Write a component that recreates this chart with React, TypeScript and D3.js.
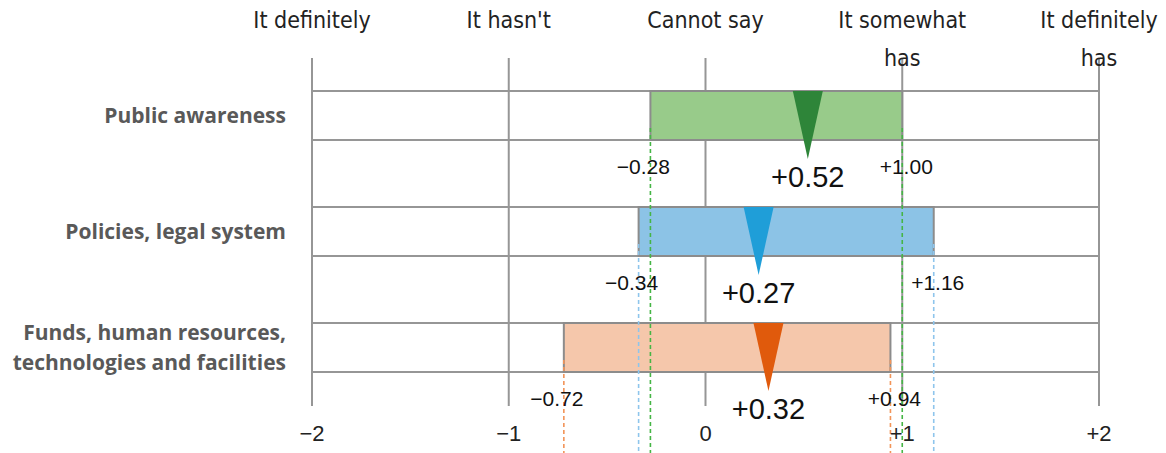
import React from "react";
import * as d3 from "d3";

const categories = ["Public awareness", "Policies, legal system", "Funds, human resources,\ntechnologies and facilities"];
const lows = [-0.28, -0.34, -0.72];
const means = [0.52, 0.27, 0.32];
const highs = [1.0, 1.16, 0.94];
const lowLabels = ["\u22120.28", "\u22120.34", "\u22120.72"];
const meanLabels = ["+0.52", "+0.27", "+0.32"];
const highLabels = ["+1.00", "+1.16", "+0.94"];
const ticks = [-2, -1, 0, 1, 2];
const tickLabels = ["\u22122", "\u22121", "0", "+1", "+2"];
const scaleLabels = ["It definitely", "It hasn't", "Cannot say", "It somewhat\nhas", "It definitely\nhas"];
const barFills = ["#98cb8a", "#8cc3e6", "#f5c7ab"];
const triFills = ["#2e8539", "#1f9ed8", "#e05a0c"];
const dashColors = ["#45b545", "#8ec5ec", "#f29458"];

const W = 1166;
const H = 453;

export default function App() {
  const x = d3.scaleLinear().domain([-2, 2]).range([312, 1099]);
  const y = d3.scaleBand<string>().domain(categories).range([91, 372]).paddingInner(0.5776).paddingOuter(0);
  const bw = y.bandwidth();
  const gridTop = 58;
  const gridBottom = 406;
  const numFont = "'Liberation Sans', Arial, sans-serif";
  const topFont = "'DejaVu Sans Condensed', 'DejaVu Sans', sans-serif";

  return (
    <svg width={W} height={H} style={{ position: "absolute", left: 0, top: 0, background: "#fff" }}>
      {/* vertical gridlines */}
      {ticks.map((t) => (
        <line key={"v" + t} x1={x(t)} x2={x(t)} y1={gridTop} y2={gridBottom} stroke="#969696" strokeWidth={2} />
      ))}
      {/* horizontal gridlines */}
      {categories.map((c) => {
        const y0 = y(c)!;
        return (
          <g key={"h" + c}>
            <line x1={x(-2)} x2={x(2)} y1={y0} y2={y0} stroke="#969696" strokeWidth={2} />
            <line x1={x(-2)} x2={x(2)} y1={y0 + bw} y2={y0 + bw} stroke="#969696" strokeWidth={2} />
          </g>
        );
      })}
      {/* bars */}
      {categories.map((c, i) => {
        const y0 = y(c)!;
        return (
          <rect key={"b" + c} x={x(lows[i])} y={y0} width={x(highs[i]) - x(lows[i])} height={bw}
            fill={barFills[i]} stroke="#8c8c8c" strokeWidth={2} />
        );
      })}
      {/* triangles */}
      {categories.map((c, i) => {
        const y0 = y(c)!;
        const cx = x(means[i]);
        const path = d3.path();
        path.moveTo(cx - 15, y0);
        path.lineTo(cx + 15, y0);
        path.lineTo(cx, y0 + 68);
        path.closePath();
        return <path key={"t" + c} d={path.toString()} fill={triFills[i]} />;
      })}
      {/* dashed range lines */}
      {categories.map((c, i) => {
        const y0 = y(c)! + 37;
        return (
          <g key={"d" + c}>
            {[lows[i], highs[i]].map((v, j) => (
              <line key={j} x1={x(v)} x2={x(v)} y1={y0} y2={H} stroke={dashColors[i]} strokeWidth={1.6} strokeDasharray="4 3" />
            ))}
          </g>
        );
      })}
      {/* value labels */}
      {categories.map((c, i) => {
        const y0 = y(c)!;
        return (
          <g key={"l" + c} fontFamily={numFont} fill="#111">
            <text x={x(lows[i]) - 7} y={y0 + 83} textAnchor="middle" fontSize={21}>{lowLabels[i]}</text>
            <text x={x(highs[i]) + 4} y={y0 + 83} textAnchor="middle" fontSize={21}>{highLabels[i]}</text>
            <text x={x(means[i])} y={y0 + 96} textAnchor="middle" fontSize={29}>{meanLabels[i]}</text>
          </g>
        );
      })}
      {/* category labels */}
      {categories.map((c) => {
        const lines = c.split("\n");
        const cy = y(c)! + bw / 2;
        const lh = 30;
        return (
          <text key={"c" + c} x={286} textAnchor="end" fontFamily="'Open Sans', sans-serif" fontWeight="bold" fontSize={21} fill="#595959">
            {lines.map((ln, k) => (
              <tspan key={k} x={286} y={cy + (k - (lines.length - 1) / 2) * lh} dy="0.35em">{ln}</tspan>
            ))}
          </text>
        );
      })}
      {/* top scale labels */}
      {ticks.map((t, i) => (
        <text key={"s" + t} textAnchor="middle" fontFamily={topFont} fontSize={23} fill="#222">
          {scaleLabels[i].split("\n").map((ln, k) => (
            <tspan key={k} x={x(t)} y={28 + k * 38}>{ln}</tspan>
          ))}
        </text>
      ))}
      {/* bottom axis labels */}
      {ticks.map((t, i) => (
        <text key={"a" + t} x={x(t)} y={441} textAnchor="middle" fontFamily={numFont} fontSize={22} fill="#222">{tickLabels[i]}</text>
      ))}
    </svg>
  );
}
